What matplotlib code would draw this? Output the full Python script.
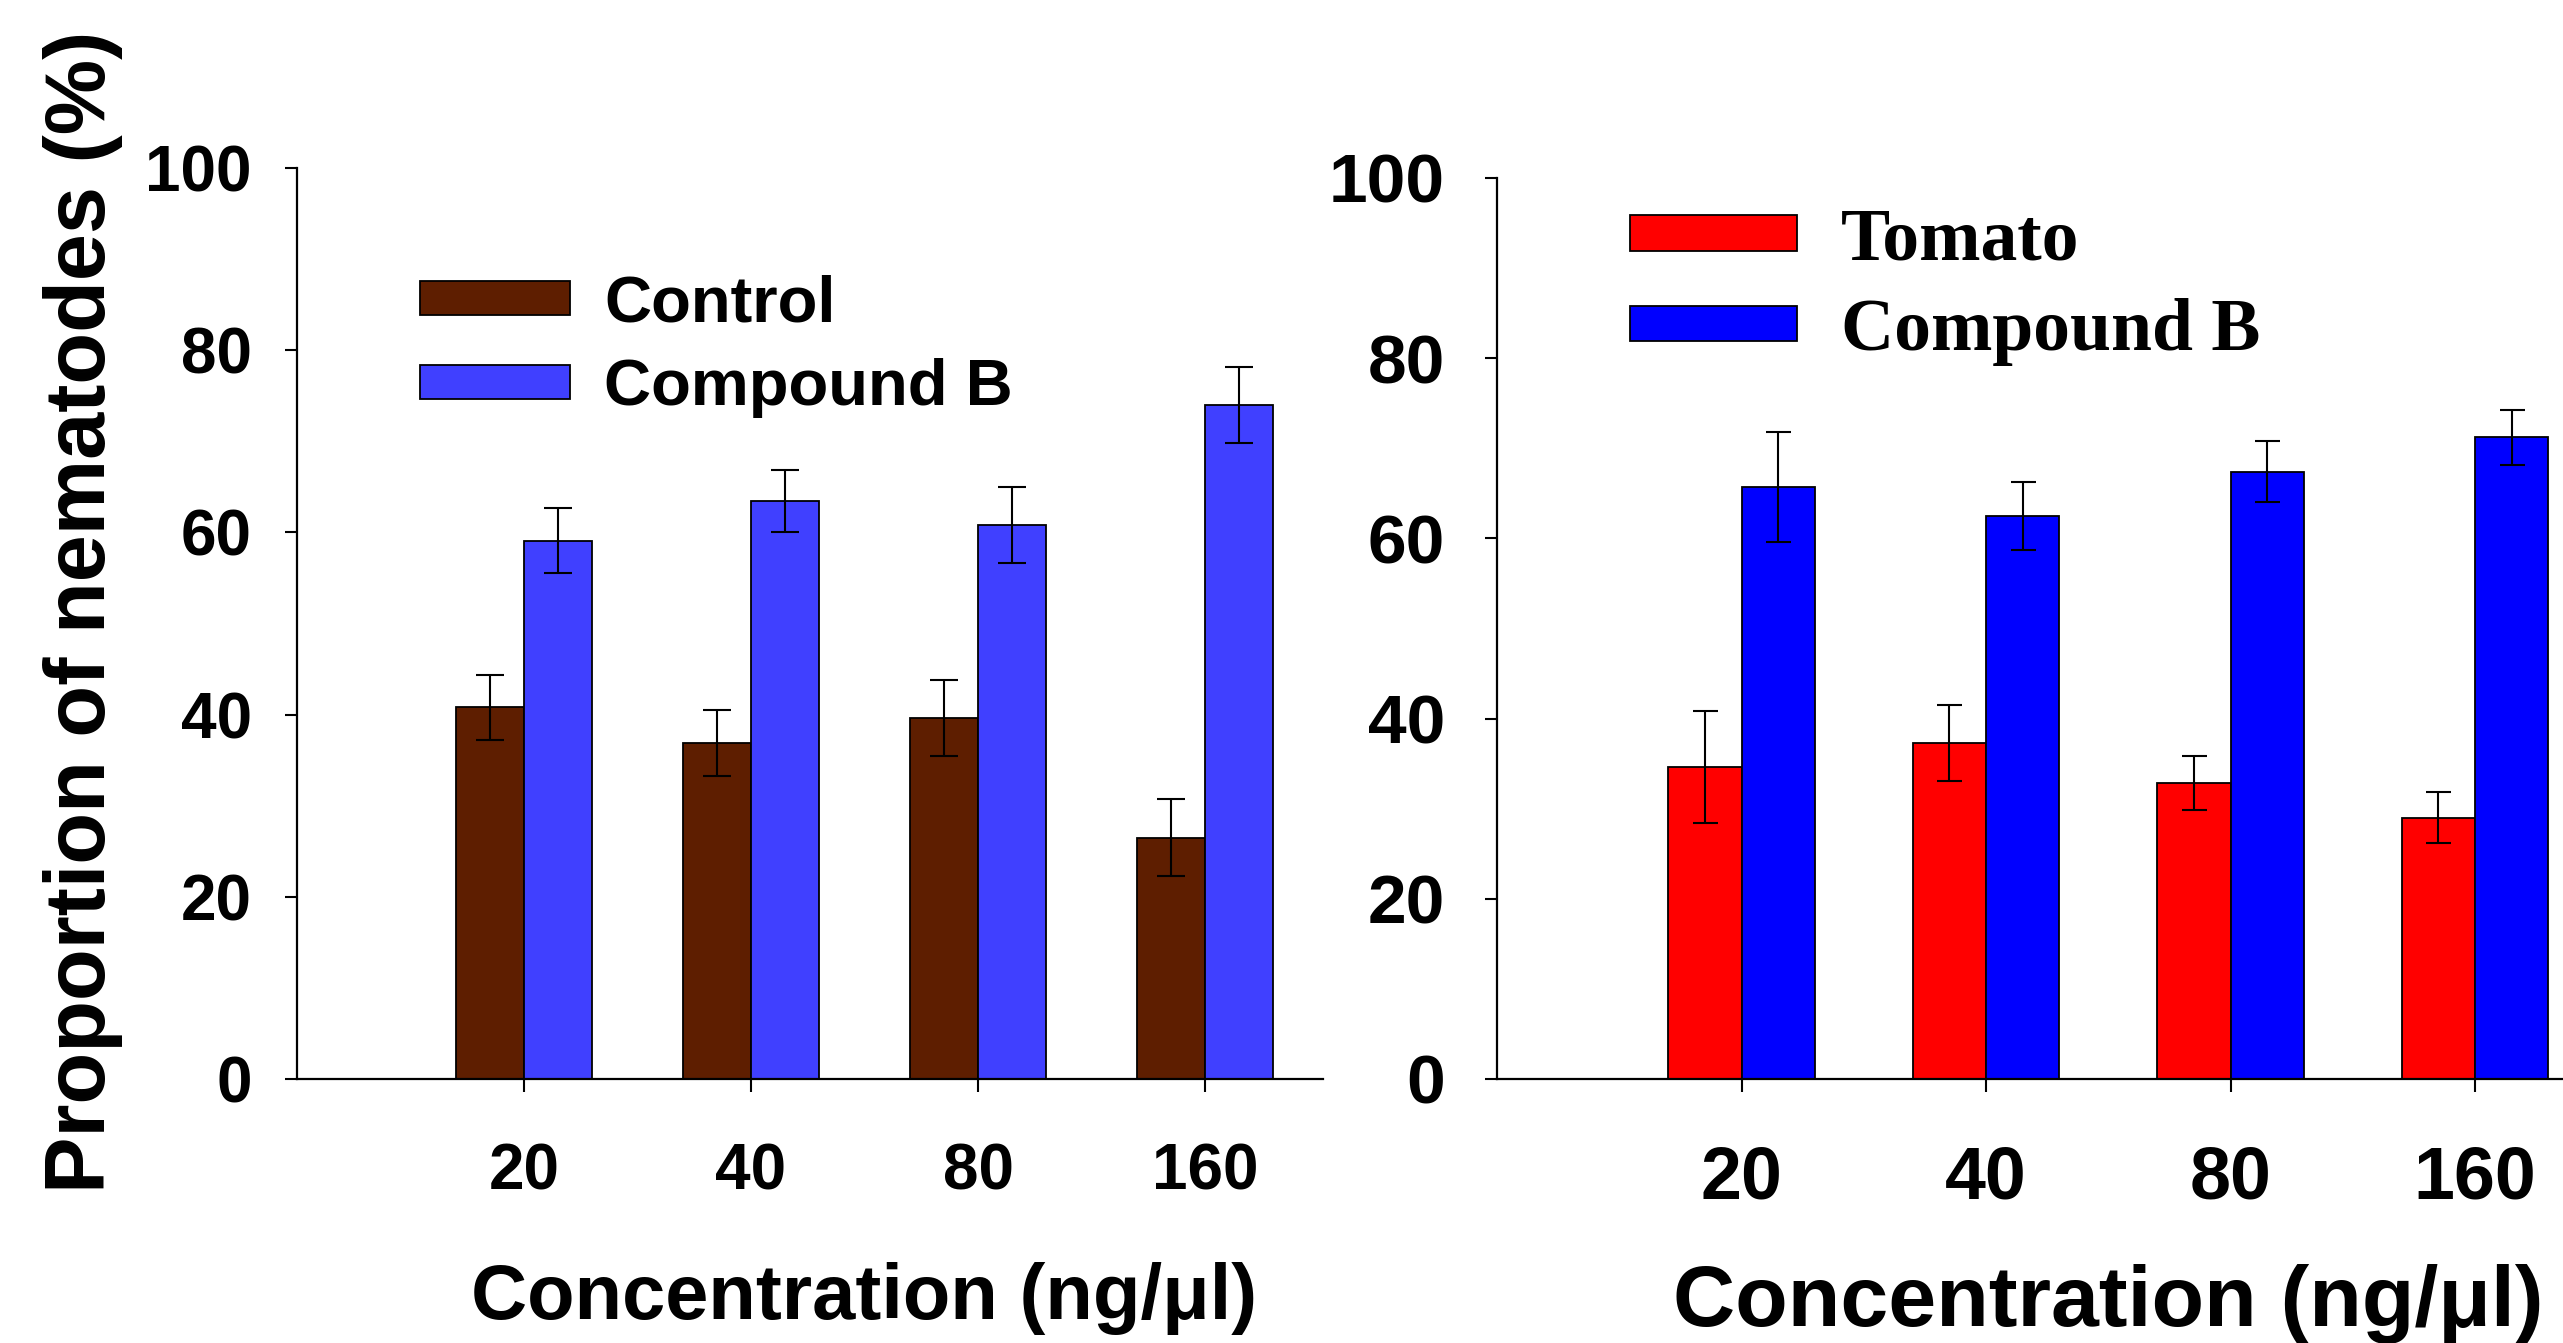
import numpy as np
import matplotlib
matplotlib.use('Agg')
import matplotlib.pyplot as plt

plt.rcParams['font.family'] = ['Liberation Sans', 'DejaVu Sans']
plt.rcParams['font.weight'] = 'bold'
plt.rcParams['axes.labelweight'] = 'bold'

# data
conc = ['20', '40', '80', '160']
control = [40.8, 36.9, 39.6, 26.5]
control_err = [3.6, 3.6, 4.2, 4.2]
cmpd_left = [59.1, 63.4, 60.8, 74.0]
cmpd_left_err = [3.6, 3.4, 4.2, 4.2]
tomato = [34.6, 37.3, 32.9, 29.0]
tomato_err = [6.2, 4.2, 3.0, 2.8]
cmpd_right = [65.7, 62.5, 67.4, 71.2]
cmpd_right_err = [6.1, 3.8, 3.4, 3.1]

pos = np.arange(1, len(conc) + 1)
w = 0.3

fig = plt.figure(figsize=(25.63, 13.43), dpi=100)
ax1 = fig.add_axes([0.1159, 0.1966, 0.4003, 0.6783])
ax2 = fig.add_axes([0.5841, 0.1966, 0.4159, 0.6709])


def style_axis(ax, xmax, ysize, xsize, ypad, xpad):
    ax.set_xlim(0, xmax)
    ax.set_ylim(0, 100)
    ax.set_yticks([0, 20, 40, 60, 80, 100])
    ax.set_xticks(pos)
    ax.set_xticklabels(conc)
    for s in ['top', 'right']:
        ax.spines[s].set_visible(False)
    for s in ['left', 'bottom']:
        ax.spines[s].set_linewidth(1.6)
    ax.tick_params(axis='y', direction='out', length=8.5, width=1.5,
                   pad=ypad, labelsize=ysize)
    ax.tick_params(axis='x', direction='out', length=9.5, width=1.5,
                   pad=xpad, labelsize=xsize)


# left panel
ax1.bar(pos - w / 2, control, w, color='#5e1e00', edgecolor='black',
        linewidth=1.3, label='Control', zorder=2)
ax1.bar(pos + w / 2, cmpd_left, w, color='#4040ff', edgecolor='black',
        linewidth=1.3, label='Compound B', zorder=2)
ax1.errorbar(pos - w / 2, control, yerr=control_err, fmt='none', ecolor='black',
             elinewidth=1.5, capsize=10, capthick=1.5, zorder=3)
ax1.errorbar(pos + w / 2, cmpd_left, yerr=cmpd_left_err, fmt='none', ecolor='black',
             elinewidth=1.5, capsize=10, capthick=1.5, zorder=3)
style_axis(ax1, 4.52, 46, 46, 24, 36)
ax1.set_ylabel('Proportion of nematodes (%)', fontsize=61, va='center')
ax1.yaxis.set_label_coords(-0.2086, 0.5126)
ax1.set_xlabel('Concentration (ng/\u03bcl)', fontsize=56, va='center')
ax1.xaxis.set_label_coords(0.553, -0.241)
ax1.legend(loc='upper left', bbox_to_anchor=(0.12, 0.883), frameon=False,
           fontsize=47, handlelength=2.3, handleheight=0.42,
           handletextpad=0.52, labelspacing=0.36, borderpad=0, borderaxespad=0)

# right panel
ax2.bar(pos - w / 2, tomato, w, color='#ff0000', edgecolor='black',
        linewidth=1.3, label='Tomato', zorder=2)
ax2.bar(pos + w / 2, cmpd_right, w, color='#0000ff', edgecolor='black',
        linewidth=1.3, label='Compound B', zorder=2)
ax2.errorbar(pos - w / 2, tomato, yerr=tomato_err, fmt='none', ecolor='black',
             elinewidth=1.5, capsize=9, capthick=1.5, zorder=3)
ax2.errorbar(pos + w / 2, cmpd_right, yerr=cmpd_right_err, fmt='none', ecolor='black',
             elinewidth=1.5, capsize=9, capthick=1.5, zorder=3)
style_axis(ax2, 4.36, 50, 53, 29, 38)
ax2.set_xlabel('Concentration (ng/\u03bcl)', fontsize=62, va='center')
ax2.xaxis.set_label_coords(0.573, -0.250)
ax2.legend(loc='upper left', bbox_to_anchor=(0.125, 0.967), frameon=False,
           prop=dict(family='Liberation Serif', weight='bold', size=53),
           handlelength=2.26, handleheight=0.37,
           handletextpad=0.6, labelspacing=0.3, borderpad=0, borderaxespad=0)

fig.savefig('out.png', dpi=100)
